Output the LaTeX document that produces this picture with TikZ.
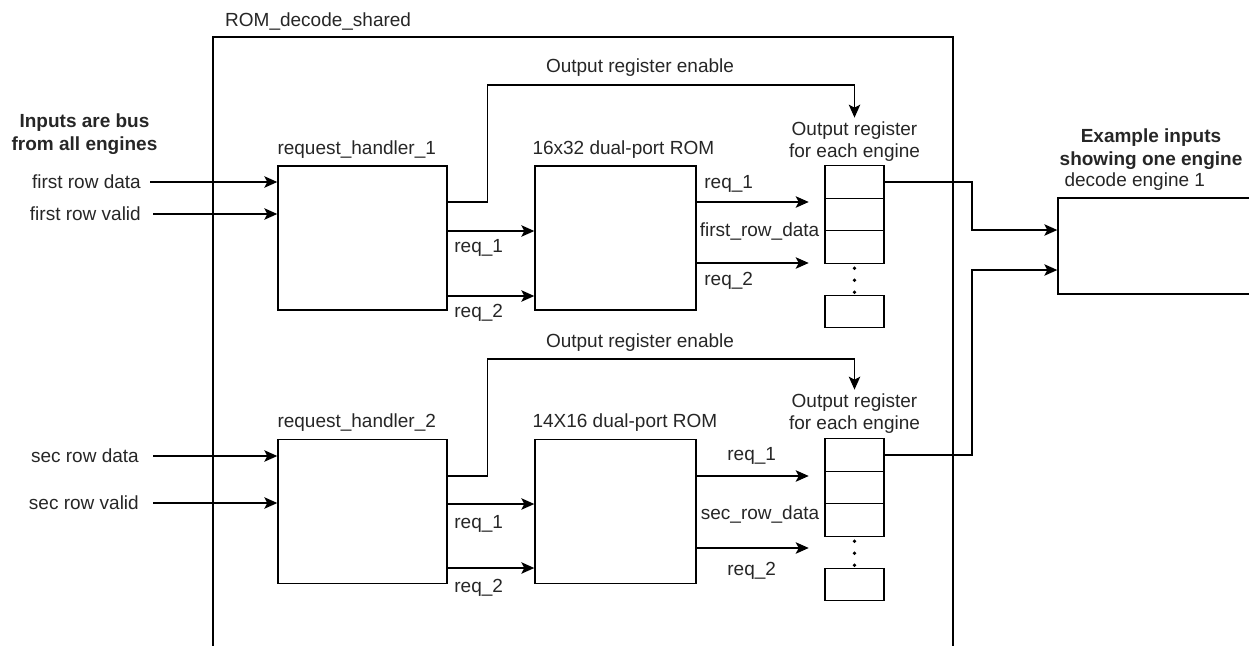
\documentclass[tikz,border=0pt]{standalone}
\usepackage{fontspec}
\setmainfont{Liberation Sans}
\usetikzlibrary{arrows.meta, positioning}

\begin{document}
\begin{tikzpicture}[
    x=1pt, y=-1pt,
    every node/.style={font=\fontsize{19}{22}\selectfont, text=black!85, inner sep=0},
    box/.style={draw=black, line width=1.4pt, minimum width=169pt, minimum height=144pt},
    rom/.style={box, minimum width=161pt},
    cell/.style={draw=black, line width=1.4pt, minimum width=59pt, minimum height=32.5pt, outer sep=0},
    head/.style={font=\fontsize{19}{22.5}\selectfont\bfseries, align=center},
    arr/.style={draw, ->, line width=1.4pt},
    >={Stealth[length=13pt, width=11.5pt, inset=3pt]}
]
\useasboundingbox (0,0) rectangle (1249,645);
\clip (0,0) rectangle (1249,645);

% shared block
\node[draw=black, line width=1.4pt, minimum width=740pt, minimum height=663pt] (shared) at (583,368.5) {};
\node[anchor=base west] (sharedlab) at (225,27) {ROM\_decode\_shared};
\node[head] (busnote) at (84.5,134) {Inputs are bus\\from all engines};

% first row
\node[box] (rh1) at (362.5,238) {};
\node[above right=7pt and 0pt of rh1.north west] (rh1lab) {request\_handler\_1};
\node[rom] (rom1) at (615.5,238) {};
\node[above right=7pt and -2pt of rom1.north west] (rom1lab) {16x32 dual-port ROM};
\node[cell] (r1a) at (854.5,182) {};
\node[cell, below=0pt of r1a] (r1b) {};
\node[cell, below=0pt of r1b] (r1c) {};
\node[cell, below=32pt of r1c] (r1d) {};
\node[above=4pt of r1a, align=center] (r1lab) {Output register\\for each engine};
\foreach \dy in {5,17,29} \fill ([yshift=-\dy pt]r1c.south) circle (1.8pt);

\node[anchor=east] (fdata) at (141,182) {first row data};
\node[anchor=east] (fvalid) at (141,214) {first row valid};
\draw[arr] ([xshift=9pt]fdata.east) -- (fdata -| rh1.west);
\draw[arr] ([xshift=12pt]fvalid.east) -- (fvalid -| rh1.west);

\draw[arr] ([yshift=36pt]rh1.east) -- ++(40,0) -- ++(0,-117) -| ([yshift=4pt]r1lab.north);
\node (en1) at (640,68) {Output register enable};
\draw[arr] ([yshift=7pt]rh1.east) -- ([yshift=7pt]rom1.west)
    node[pos=0, anchor=north west, xshift=6pt, yshift=-8pt] {req\_1};
\draw[arr] ([yshift=-58pt]rh1.east) -- ([yshift=-58pt]rom1.west)
    node[pos=0, anchor=north west, xshift=6pt, yshift=-8pt] {req\_2};

\draw[arr] ([yshift=36pt]rom1.east) -- ++(112,0)
    node[pos=0, anchor=south west, xshift=7pt, yshift=9pt] {req\_1};
\node[anchor=west] (fdat) at ([xshift=3pt, yshift=6pt]rom1.east) {first\_row\_data};
\draw[arr] ([yshift=-25pt]rom1.east) -- ++(112,0)
    node[pos=0, anchor=north west, xshift=7pt, yshift=-9pt] {req\_2};

% second row
\node[box] (rh2) at (362.5,511.5) {};
\node[above right=7pt and 0pt of rh2.north west] (rh2lab) {request\_handler\_2};
\node[rom] (rom2) at (615.5,511.5) {};
\node[above right=7pt and -2pt of rom2.north west] (rom2lab) {14X16 dual-port ROM};
\node[cell] (r2a) at (854.5,455) {};
\node[cell, below=0pt of r2a] (r2b) {};
\node[cell, below=0pt of r2b] (r2c) {};
\node[cell, below=32pt of r2c] (r2d) {};
\node[above=5pt of r2a, align=center] (r2lab) {Output register\\for each engine};
\foreach \dy in {5,17,29} \fill ([yshift=-\dy pt]r2c.south) circle (1.8pt);

\node[anchor=east] (sdata) at (139,456) {sec row data};
\node[anchor=east] (svalid) at (139,503) {sec row valid};
\draw[arr] ([xshift=14pt]sdata.east) -- (sdata -| rh2.west);
\draw[arr] ([xshift=14pt]svalid.east) -- (svalid -| rh2.west);

\draw[arr] ([yshift=35.5pt]rh2.east) -- ++(40,0) -- ++(0,-117) -| ([yshift=4pt]r2lab.north);
\node (en2) at (640,343) {Output register enable};
\draw[arr] ([yshift=7.5pt]rh2.east) -- ([yshift=7.5pt]rom2.west)
    node[pos=0, anchor=north west, xshift=6pt, yshift=-11pt] {req\_1};
\draw[arr] ([yshift=-56.5pt]rh2.east) -- ([yshift=-56.5pt]rom2.west)
    node[pos=0, anchor=north west, xshift=6pt, yshift=-11pt] {req\_2};

\draw[arr] ([yshift=35.5pt]rom2.east) -- ++(112,0)
    node[pos=0, anchor=south west, xshift=30pt, yshift=11pt] {req\_1};
\node[anchor=west] (sdat) at ([xshift=4pt, yshift=-2.5pt]rom2.east) {sec\_row\_data};
\draw[arr] ([yshift=-36.5pt]rom2.east) -- ++(112,0)
    node[pos=0, anchor=north west, xshift=30pt, yshift=-14pt] {req\_2};

% decode engine
\node[draw=black, line width=1.4pt, minimum width=250pt, minimum height=96pt] (engine) at (1183,246) {};
\node[above right=7pt and 7pt of engine.north west] (englab) {decode engine 1};
\node[head] (exnote) at (1151,149) {Example inputs\\showing one engine};
\draw[arr] (r1a.east) -- ++(88,0) |- ([yshift=16pt]engine.west);
\draw[arr] (r2a.east) -- ++(88,0) |- ([yshift=-24pt]engine.west);
\end{tikzpicture}
\end{document}
